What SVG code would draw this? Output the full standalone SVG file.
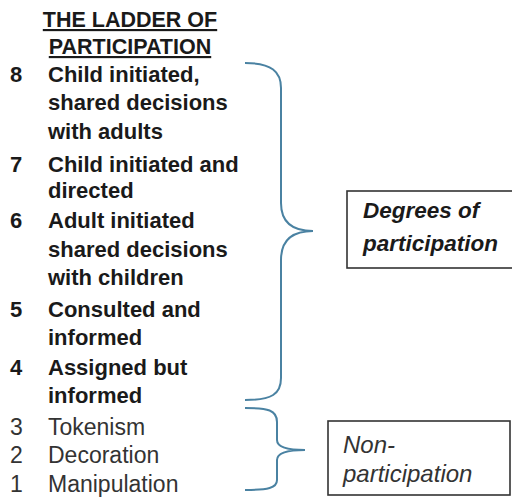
<svg xmlns="http://www.w3.org/2000/svg" width="512" height="497" viewBox="0 0 512 497">
<style>
text{font-family:"Liberation Sans",Arial,sans-serif;fill:#1a1a1a}
.t{font-size:21.5px;font-weight:bold;text-anchor:middle;text-decoration:underline}
.b{font-size:22px;font-weight:bold}
.r{font-size:23px;fill:#333}
.bi{font-size:22.5px;font-weight:bold;font-style:italic}
.i{font-size:24px;font-style:italic;fill:#333}
.brace{fill:none;stroke:#4a82a2;stroke-width:2}
.box{fill:#fff;stroke:#333;stroke-width:1.6}
</style>
<g id="title">
<text class="t" x="130" y="27">THE LADDER OF</text>
<text class="t" x="130" y="54">PARTICIPATION</text>
</g>
<g id="rung8"><text class="b" x="10" y="82">8</text><text class="b" x="48" y="82">Child initiated,</text><text class="b" x="48" y="110">shared decisions</text><text class="b" x="48" y="139">with adults</text></g>
<g id="rung7"><text class="b" x="10" y="172">7</text><text class="b" x="48" y="172">Child initiated and</text><text class="b" x="48" y="198">directed</text></g>
<g id="rung6"><text class="b" x="10" y="228">6</text><text class="b" x="48" y="228">Adult initiated</text><text class="b" x="48" y="257">shared decisions</text><text class="b" x="48" y="285">with children</text></g>
<g id="rung5"><text class="b" x="10" y="317">5</text><text class="b" x="48" y="317">Consulted and</text><text class="b" x="48" y="345">informed</text></g>
<g id="rung4"><text class="b" x="10" y="375">4</text><text class="b" x="48" y="375">Assigned but</text><text class="b" x="48" y="403">informed</text></g>
<g id="rung3"><text class="r" x="10" y="435">3</text><text class="r" x="48" y="435">Tokenism</text></g>
<g id="rung2"><text class="r" x="10" y="463">2</text><text class="r" x="48" y="463">Decoration</text></g>
<g id="rung1"><text class="r" x="10" y="492">1</text><text class="r" x="48" y="492">Manipulation</text></g>
<g id="connectors">
<path class="brace" d="M245,63 C272,63 281,72 281,88 L281,203 C281,222 292,231 313,231 C292,231 281,240 281,260 L281,378 C281,394 272,400 245,400"/>
<path class="brace" d="M245,408 C268,408 277,410 277,422 L277,440 C277,447 286,450 305,450 C286,450 277,453 277,460 L277,480 C277,488 268,490 245,490"/>
</g>
<g id="degrees">
<rect class="box" x="347" y="191" width="175" height="77"/>
<text class="bi" x="363" y="218">Degrees of</text>
<text class="bi" x="363" y="251">participation</text>
</g>
<g id="nonparticipation">
<rect class="box" x="328" y="421" width="182" height="74"/>
<text class="i" x="343" y="453">Non-</text>
<text class="i" x="343" y="482">participation</text>
</g>
</svg>
